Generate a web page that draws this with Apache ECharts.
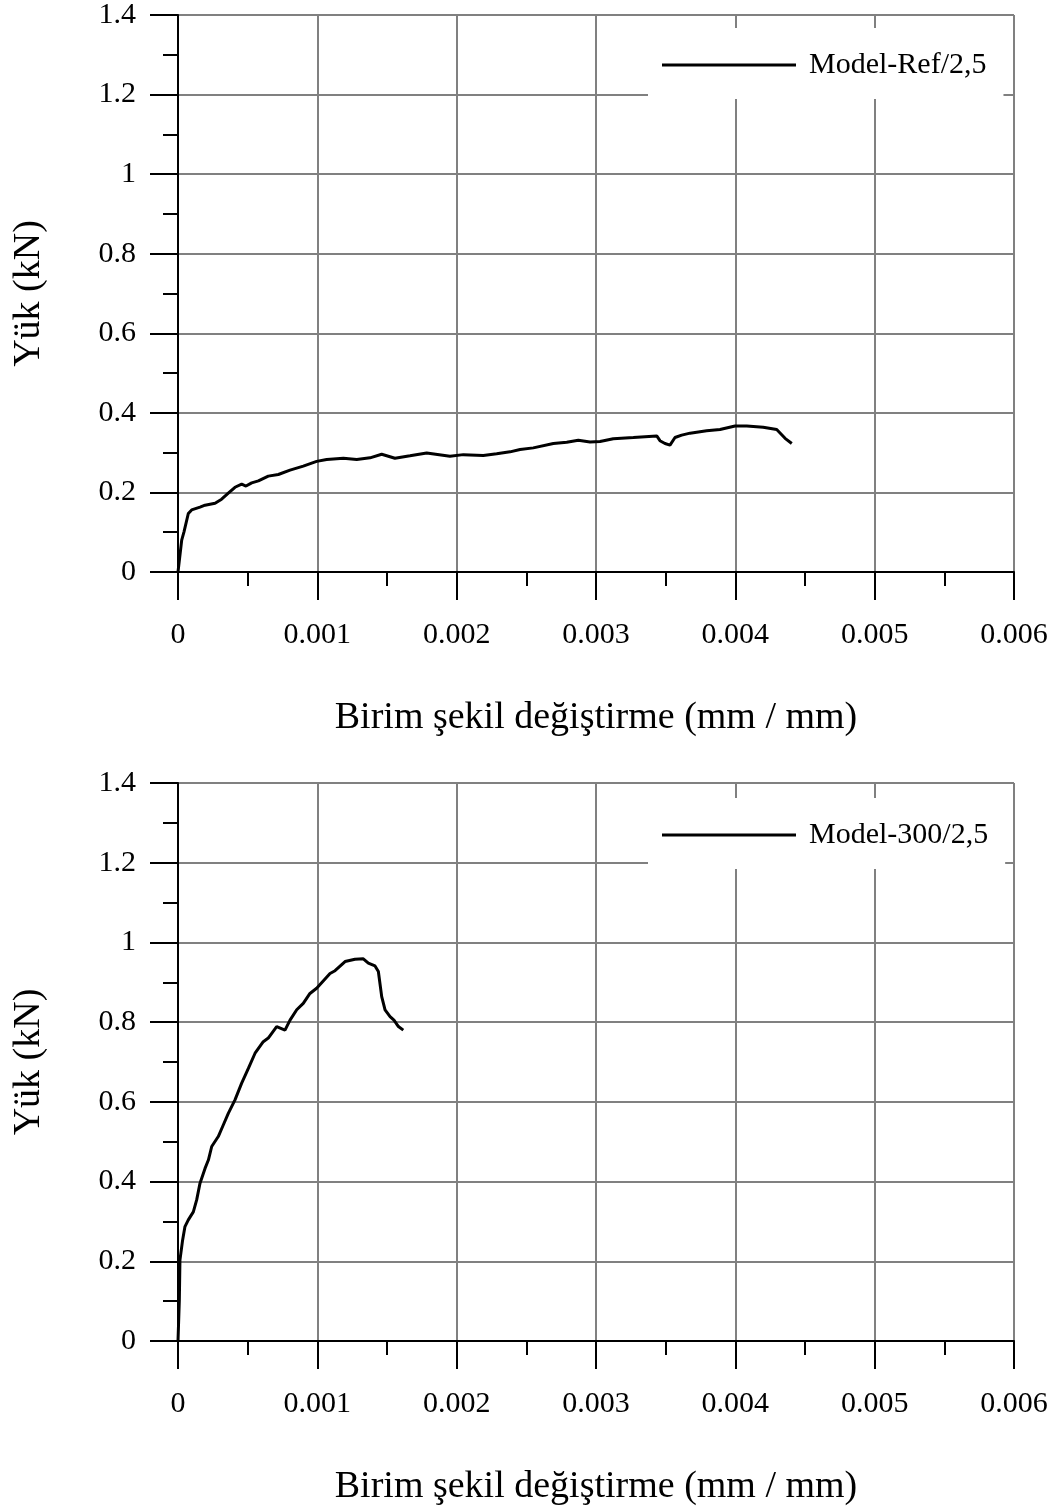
<!DOCTYPE html>
<html>
<head>
<meta charset="utf-8">
<script src="https://cdn.jsdelivr.net/npm/echarts@6/dist/echarts.min.js"></script>
<style>
html,body{margin:0;padding:0;background:#fff;}
#chart{width:1064px;height:1508px;}
</style>
</head>
<body>
<div id="chart"></div>
<script>
// ---- Data ----
const xTickValues = [0, 0.001, 0.002, 0.003, 0.004, 0.005, 0.006];
const yTickValues = [0, 0.2, 0.4, 0.6, 0.8, 1, 1.2, 1.4];
const xTitle = 'Birim şekil değiştirme (mm / mm)';
const yTitle = 'Yük (kN)';

const refName = 'Model-Ref/2,5';
const refStrain = [0, 0.0000266, 0.000043, 0.000074, 0.000098, 0.000158, 0.000194, 0.000266, 0.000313, 0.000361, 0.000409, 0.000457, 0.000488, 0.000529, 0.000577, 0.000648, 0.00072, 0.000804, 0.000899, 0.000995, 0.001067, 0.001187, 0.001283, 0.001378, 0.001462, 0.001557, 0.001665, 0.001785, 0.001952, 0.002048, 0.002191, 0.002287, 0.002383, 0.002455, 0.00255, 0.002694, 0.00279, 0.002873, 0.002957, 0.003029, 0.003124, 0.003268, 0.003436, 0.003459, 0.003495, 0.003531, 0.003567, 0.003615, 0.003675, 0.003794, 0.00389, 0.003998, 0.004082, 0.0042, 0.004297, 0.004357, 0.004405];
const refLoad = [0, 0.080, 0.101, 0.147, 0.156, 0.163, 0.168, 0.173, 0.183, 0.198, 0.213, 0.221, 0.216, 0.224, 0.229, 0.241, 0.245, 0.256, 0.266, 0.278, 0.283, 0.286, 0.283, 0.287, 0.296, 0.286, 0.292, 0.299, 0.291, 0.295, 0.293, 0.297, 0.302, 0.308, 0.312, 0.323, 0.326, 0.331, 0.327, 0.328, 0.335, 0.338, 0.342, 0.330, 0.323, 0.319, 0.338, 0.344, 0.349, 0.355, 0.358, 0.367, 0.367, 0.364, 0.358, 0.336, 0.323];

const m300Name = 'Model-300/2,5';
const m300Strain = [0, 0.0000096, 0.000014, 0.000033, 0.00005, 0.000074, 0.00011, 0.000134, 0.000158, 0.000194, 0.000218, 0.000242, 0.000289, 0.000325, 0.000361, 0.000409, 0.000457, 0.000505, 0.000553, 0.000612, 0.000648, 0.000708, 0.000768, 0.000804, 0.000852, 0.000899, 0.000947, 0.000995, 0.001091, 0.001127, 0.001199, 0.00127, 0.00133, 0.001366, 0.001414, 0.001438, 0.001462, 0.001486, 0.001522, 0.00155, 0.001582, 0.001617];
const m300Load = [0, 0.103, 0.203, 0.253, 0.287, 0.304, 0.324, 0.354, 0.396, 0.433, 0.454, 0.488, 0.513, 0.542, 0.571, 0.605, 0.647, 0.684, 0.722, 0.751, 0.760, 0.789, 0.780, 0.805, 0.831, 0.847, 0.872, 0.885, 0.922, 0.929, 0.952, 0.958, 0.959, 0.948, 0.941, 0.927, 0.864, 0.831, 0.814, 0.805, 0.789, 0.780];

// ---- Build ----
const FONT = '"Liberation Serif", "Times New Roman", serif';
const pairs = (xs, ys) => xs.map((x, i) => [x, ys[i]]);

function xAxisDef(gi) {
  return {
    type: 'value', gridIndex: gi,
    min: xTickValues[0], max: xTickValues[xTickValues.length - 1], interval: 0.001,
    name: xTitle, nameLocation: 'middle', nameGap: 127,
    nameTextStyle: {fontFamily: FONT, fontSize: 38, color: '#000'},
    axisLine: {show: true, onZero: false, lineStyle: {color: '#000', width: 2}},
    axisTick: {show: true, inside: false, length: 28, lineStyle: {color: '#000', width: 2}},
    minorTick: {show: true, splitNumber: 2, length: 14, lineStyle: {color: '#000', width: 2}},
    splitLine: {show: true, lineStyle: {color: '#808080', width: 2}},
    axisLabel: {fontFamily: FONT, fontSize: 30, color: '#000', margin: 48, showMaxLabel: true, showMinLabel: true}
  };
}
function yAxisDef(gi) {
  return {
    type: 'value', gridIndex: gi,
    min: yTickValues[0], max: yTickValues[yTickValues.length - 1], interval: 0.2,
    name: yTitle, nameLocation: 'middle', nameGap: 130,
    nameTextStyle: {fontFamily: FONT, fontSize: 38, color: '#000'},
    axisLine: {show: true, onZero: false, lineStyle: {color: '#000', width: 2}},
    axisTick: {show: true, inside: false, length: 28, lineStyle: {color: '#000', width: 2}},
    minorTick: {show: true, splitNumber: 2, length: 15, lineStyle: {color: '#000', width: 2}},
    splitLine: {show: true, lineStyle: {color: '#808080', width: 2}},
    axisLabel: {fontFamily: FONT, fontSize: 30, color: '#000', margin: 42}
  };
}
function legendDef(name, top) {
  return {
    data: [name], left: 648, top: top,
    backgroundColor: '#fff', borderWidth: 0,
    padding: [22, 17, 19, 14],
    icon: 'rect', itemWidth: 134, itemHeight: 3,
    textStyle: {fontFamily: FONT, fontSize: 30, color: '#000', lineHeight: 30, padding: [0, 0, 0, 8]},
    selectedMode: false
  };
}
function seriesDef(name, gi, xs, ys) {
  return {
    name: name, type: 'line', xAxisIndex: gi, yAxisIndex: gi,
    data: pairs(xs, ys), showSymbol: false, symbol: 'none', smooth: false,
    color: '#000', lineStyle: {color: '#000', width: 3}, animation: false
  };
}

const chart = echarts.init(document.getElementById('chart'), null, {renderer: 'canvas'});
chart.setOption({
  backgroundColor: '#fff',
  animation: false,
  grid: [
    {left: 178, top: 15, width: 836, height: 557},
    {left: 178, top: 783, width: 836, height: 558}
  ],
  xAxis: [xAxisDef(0), xAxisDef(1)],
  yAxis: [yAxisDef(0), yAxisDef(1)],
  legend: [legendDef(refName, 28), legendDef(m300Name, 798)],
  series: [
    seriesDef(refName, 0, refStrain, refLoad),
    seriesDef(m300Name, 1, m300Strain, m300Load)
  ]
});
</script>
</body>
</html>
